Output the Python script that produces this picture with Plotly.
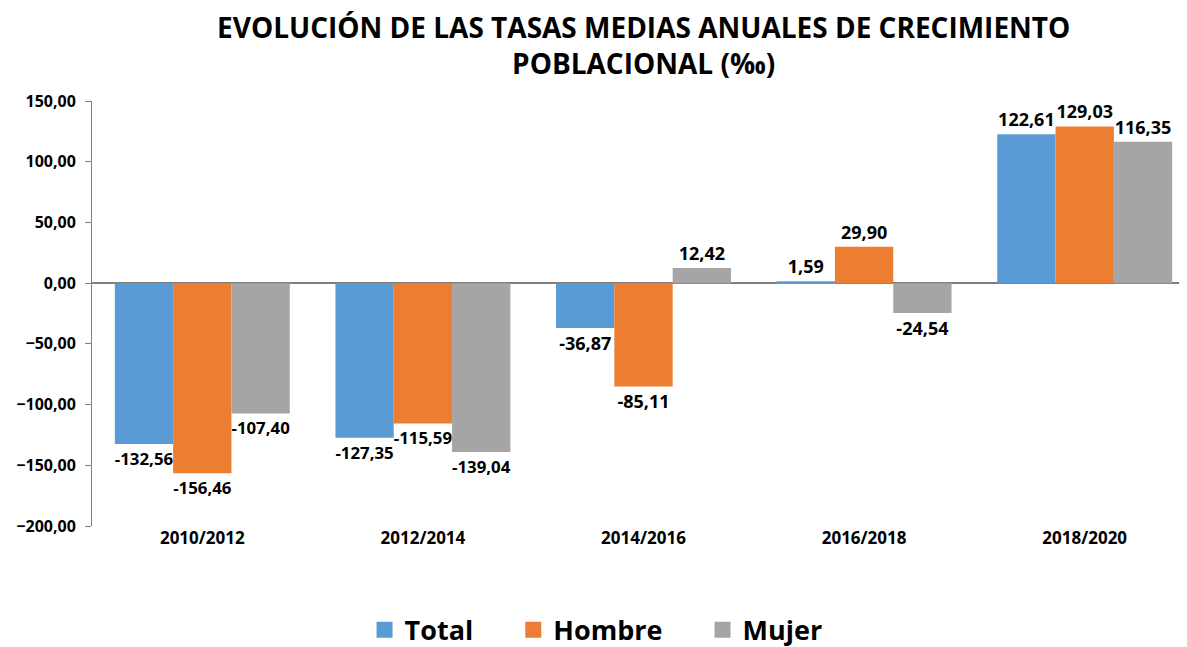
import plotly.graph_objects as go

periodos = ["2010/2012", "2012/2014", "2014/2016", "2016/2018", "2018/2020"]
total = [-132.56, -127.35, -36.87, 1.59, 122.61]
hombre = [-156.46, -115.59, -85.11, 29.90, 129.03]
mujer = [-107.40, -139.04, 12.42, -24.54, 116.35]

series = [("Total", total, "#5B9BD5"), ("Hombre", hombre, "#ED7D31"), ("Mujer", mujer, "#A5A5A5")]

FONT = "Open Sans"
PAD = "\u00a0" * 5

def fmt(v):
    return f"{v:.2f}".replace(".", ",")

fig = go.Figure()
for i, (nombre, vals, color) in enumerate(series):
    fig.add_trace(go.Bar(
        x=periodos, y=vals, name=nombre, marker_color=color,
        marker_line_width=0,
        text=[fmt(v) for v in vals], textposition="outside",
        textfont=dict(family=FONT, size=18, color="black", weight="bold"),
        cliponaxis=False, showlegend=False,
    ))
    # leyenda con marcadores cuadrados grandes
    fig.add_trace(go.Scatter(
        x=[None], y=[None], mode="markers",
        name=nombre + (PAD if i < 2 else ""),
        marker=dict(symbol="square", size=19, color=color),
    ))

fig.add_annotation(
    text="<b>EVOLUCIÓN DE LAS TASAS MEDIAS ANUALES DE CRECIMIENTO<br>POBLACIONAL (‰)</b>",
    xref="paper", yref="paper", x=0.5, y=1.0, yshift=95, xanchor="center", yanchor="top",
    showarrow=False, align="center",
    font=dict(family=FONT, size=28, color="black"),
)

fig.update_layout(
    width=1187, height=647,
    paper_bgcolor="white", plot_bgcolor="white",
    margin=dict(l=84, r=0, t=93, b=129, autoexpand=False),
    barmode="group", bargap=0.207, bargroupgap=0,
    font=dict(family=FONT, color="black"),
    separators=",.",
    legend=dict(
        orientation="h", x=0.457, xanchor="center", y=-0.245, yanchor="middle",
        font=dict(family=FONT, size=27, color="black", weight="bold"),
        itemsizing="trace", itemwidth=30,
    ),
    showlegend=True,
)
fig.update_yaxes(
    range=[-200, 150], dtick=50, tickformat=".2f",
    showgrid=False, zeroline=True, zerolinecolor="#7F7F7F", zerolinewidth=1.5,
    showline=True, linecolor="#7F7F7F", linewidth=1,
    ticks="outside", ticklen=6, tickcolor="#7F7F7F", ticklabelstandoff=6,
    tickfont=dict(family=FONT, size=16, color="black", weight="bold"),
)
fig.update_xaxes(
    showgrid=False, showline=False, ticks="",
    tickfont=dict(family=FONT, size=17, color="black", weight="bold"),
)

fig.write_html("out.html")
